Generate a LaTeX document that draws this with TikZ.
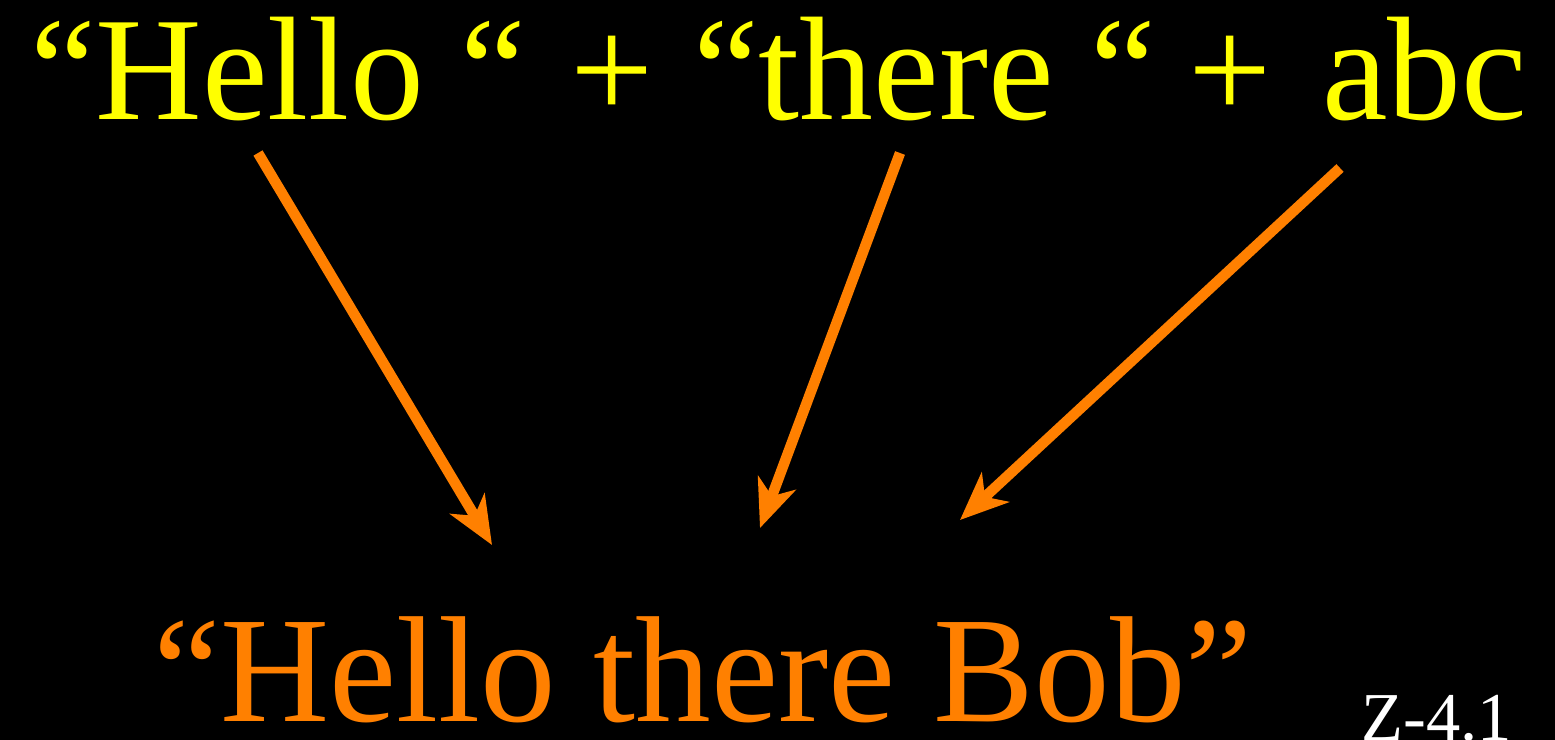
\documentclass[tikz,border=0pt]{standalone}
\usepackage{fontspec}
\setmainfont{Liberation Serif}
\usetikzlibrary{positioning, arrows.meta}
\definecolor{slideYellow}{RGB}{255, 255, 0}
\definecolor{slideOrange}{RGB}{255, 128, 0}
\tikzset{
  part/.style={inner sep=0pt, anchor=base west, text=slideYellow,
    font=\fontsize{84}{84}\selectfont},
  result/.style={inner sep=0pt, anchor=base, text=slideOrange,
    font=\fontsize{86}{86}\selectfont},
  tag/.style={inner sep=0pt, anchor=base west, text=white,
    font=\fontsize{39}{39}\selectfont},
  concat/.style={-{Stealth[length=0.96cm, width=0.8cm, inset=0.28cm]},
    line width=0.21cm, slideOrange},
}

\begin{document}
\begin{tikzpicture}[x=0.02cm, y=-0.02cm]
  \fill[black] (0,0) rectangle (1555,740);
  \useasboundingbox (0,0) rectangle (1555,740);
  % operands
  \node[part] (hello) at (30,120) {“Hello “};
  \node[part] (plusA) at (570,120) {+};
  \node[part] (there) at (693,120) {“there “};
  \node[part] (plusB) at (1188,120) {+};
  \node[part] (abc) at (1322,120) {abc};
  % result
  \node[result] (bob) at (703,721) {“Hello there Bob”};
  \node[tag] (slide) at (1361,740) {Z-4.1};
  % arrows
  \coordinate (helloFoot) at (258,153);
  \coordinate (thereFoot) at (900,153);
  \coordinate (abcFoot) at (1340,168);
  \coordinate (intoA) at (492,545);
  \coordinate (intoB) at (760,528);
  \coordinate (intoC) at (960,520);
  \draw[concat] (helloFoot) -- (intoA);
  \draw[concat] (thereFoot) -- (intoB);
  \draw[concat] (abcFoot) -- (intoC);
\end{tikzpicture}
\end{document}
